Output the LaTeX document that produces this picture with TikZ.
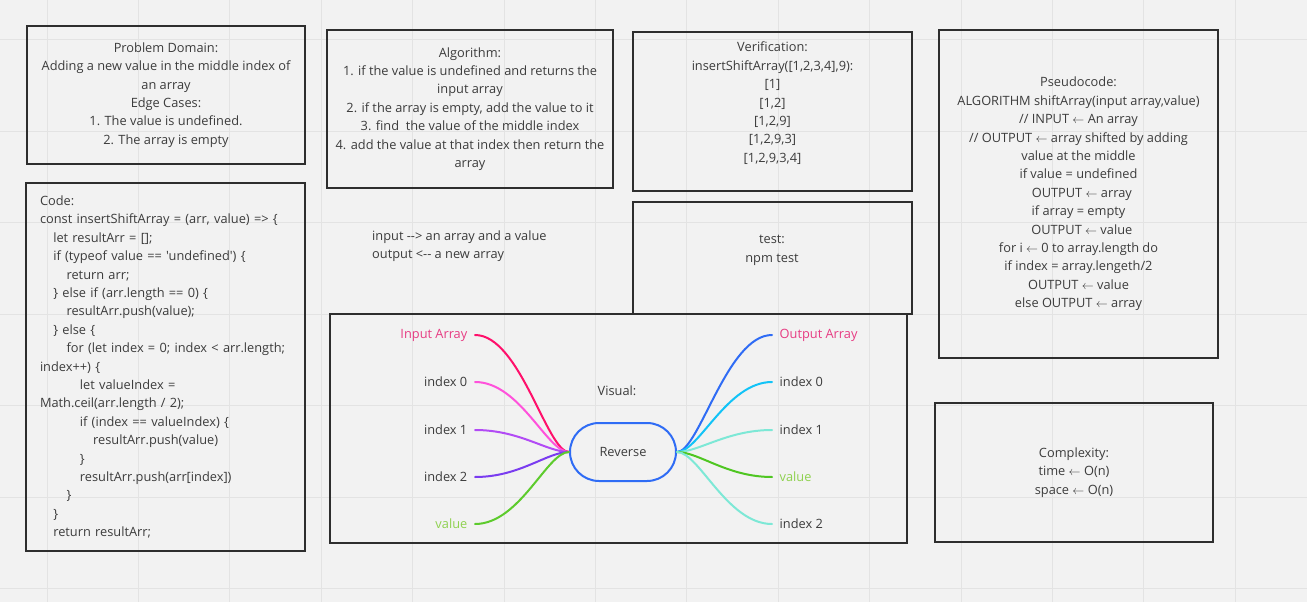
\documentclass[tikz,border=0pt]{standalone}
\usepackage{fontspec}
\setmainfont{Open Sans}[Ligatures=TeXOff]
\usetikzlibrary{positioning}
\definecolor{paper}{HTML}{F2F2F2}
\definecolor{gridline}{HTML}{E3E3E3}
\definecolor{ink}{HTML}{3C3C3C}
\definecolor{boxline}{HTML}{2E2E2E}
\definecolor{rootblue}{HTML}{2F6CF5}
\definecolor{pinktext}{HTML}{E73C83}
\definecolor{greentext}{HTML}{8FD14F}
\newlength\tabw
\setlength\tabw{13.3pt}
\newcommand\tabin[1]{\hspace*{#1\tabw}\ignorespaces}
\newcommand\lar{$\leftarrow$}
\tikzset{
  panel/.style={draw=boxline, line width=2pt, inner sep=0pt, align=center, text=ink,
    font=\fontsize{12.8}{18.4}\selectfont},
  leaf/.style={text=ink, inner xsep=7.5pt, inner ysep=2pt, font=\fontsize{12.8}{15}\selectfont},
  branch/.style={line width=2pt, line cap=round}
}
\begin{document}
\begin{tikzpicture}[x=1pt,y=-1pt]
\fill[paper] (0,0) rectangle (1307,602);
\useasboundingbox (0,0) rectangle (1307,602);
\foreach \k in {0,...,13}
         {
\draw[gridline, line width=1pt] (47+91.4*\k,0) -- (47+91.4*\k,602);
}
\foreach \k in {0,...,6}
         {
\draw[gridline, line width=1pt] (0,40+91.4*\k) -- (1307,40+91.4*\k);
}

\node[panel, minimum width=278pt, minimum height=138pt] (domain) at (166,95)
  {Problem Domain:\\ Adding a new value in the middle index of\\ an array\\ Edge Cases:\\
   1. The value is undefined.\\ 2. The array is empty};
\node[panel, minimum width=286pt, minimum height=158pt] (algo) at (470,109)
  {Algorithm:\\ 1. if the value is undefined and returns the\\ input array\\
   2. if the array is empty, add the value to it\\ 3. find\ \ the value of the middle index\\
   4. add the value at that index then return the\\ array};
\node[panel, minimum width=279pt, minimum height=159pt] (verify) at (772.5,111.5)
  {Verification:\\ insertShiftArray([1,2,3,4],9):\\ {[1]}\\ {[1,2]}\\ {[1,2,9]}\\ {[1,2,9,3]}\\ {[1,2,9,3,4]}\\ ~};
\node[panel, minimum width=279pt, minimum height=328pt] (pseudo) at (1078.5,194)
  {Pseudocode:\\ ALGORITHM shiftArray(input array,value)\\ // INPUT \lar{} An array\\
   // OUTPUT \lar{} array shifted by adding\\ value at the middle\\ if value = undefined\\
   \ \ OUTPUT \lar{} array\\ if array = empty\\ \ \ OUTPUT \lar{} value\\
   for i \lar{} 0 to array.length do\\ if index = array.lengeth/2\\ OUTPUT \lar{} value\\
   else OUTPUT \lar{} array};
\node[panel, align=left, text width=251pt, inner xsep=14pt, minimum height=368pt] (code) at (165.5,367)
  {Code:\\
   const insertShiftArray = (arr, value) => \{\\
   \tabin1 let resultArr = [];\\
   \tabin1 if (typeof value == 'undefined') \{\\
   \tabin2 return arr;\\
   \tabin1 \} else if (arr.length == 0) \{\\
   \tabin2 resultArr.push(value);\\
   \tabin1 \} else \{\\
   \tabin2 for (let index = 0; index < arr.length;\\
   index++) \{\\
   \tabin3 let valueIndex =\\
   Math.ceil(arr.length / 2);\\
   \tabin3 if (index == valueIndex) \{\\
   \tabin4 resultArr.push(value)\\
   \tabin3 \}\\
   \tabin3 resultArr.push(arr[index])\\
   \tabin2 \}\\
   \tabin1 \}\\
   \tabin1 return resultArr;};
\node[panel, minimum width=279pt, minimum height=112pt] (test) at (772,258)
  {test:\\ npm test\\ ~};
\node[panel, minimum width=278pt, minimum height=139pt] (cost) at (1074,472.5)
  {Complexity:\\ time \lar{} O(n)\\ space \lar{} O(n)};
\node[text=ink, align=left, anchor=west, inner sep=0pt, font=\fontsize{12.8}{18.4}\selectfont] (io) at (372,246)
  {input --> an array and a value\\ output <-- a new array};

\node[panel, minimum width=577pt, minimum height=229pt] (visual) at (618.5,428.5) {};
\node[text=ink, font=\fontsize{12.8}{15}\selectfont] (vislabel) at (617,391) {Visual:};
\node[draw=rootblue, line width=2pt, rounded corners=29pt, minimum width=106pt, minimum height=58pt,
  text=ink, font=\fontsize{12.8}{15}\selectfont] (rev) at (623,452) {Reverse};

\node[leaf, anchor=east, text=pinktext] (inarr) at (475,335) {Input Array};
\node[leaf, anchor=east] (in0) at (475,382) {index 0};
\node[leaf, anchor=east] (in1) at (475,430) {index 1};
\node[leaf, anchor=east] (in2) at (475,477) {index 2};
\node[leaf, anchor=east, text=greentext] (inval) at (475,524) {value};

\node[leaf, anchor=west, text=pinktext] (outarr) at (772,335) {Output Array};
\node[leaf, anchor=west] (out0) at (772,382) {index 0};
\node[leaf, anchor=west] (out1) at (772,430) {index 1};
\node[leaf, anchor=west, text=greentext] (outval) at (772,477) {value};
\node[leaf, anchor=west] (out2) at (772,524) {index 2};

\draw[branch, draw={rgb,255:red,255;green,16;blue,107}] (rev.west) .. controls +(-22,0) and +(45,0) .. (inarr.east);
\draw[branch, draw={rgb,255:red,255;green,82;blue,219}] (rev.west) .. controls +(-22,0) and +(45,0) .. (in0.east);
\draw[branch, draw={rgb,255:red,178;green,75;blue,245}] (rev.west) .. controls +(-22,0) and +(45,0) .. (in1.east);
\draw[branch, draw={rgb,255:red,122;green,60;blue,240}] (rev.west) .. controls +(-22,0) and +(45,0) .. (in2.east);
\draw[branch, draw={rgb,255:red,93;green,203;blue,45}] (rev.west) .. controls +(-22,0) and +(45,0) .. (inval.east);

\draw[branch, draw=rootblue] (rev.east) .. controls +(22,0) and +(-45,0) .. (outarr.west);
\draw[branch, draw={rgb,255:red,18;green,195;blue,247}] (rev.east) .. controls +(22,0) and +(-45,0) .. (out0.west);
\draw[branch, draw={rgb,255:red,125;green,232;blue,214}] (rev.east) .. controls +(22,0) and +(-45,0) .. (out1.west);
\draw[branch, draw={rgb,255:red,79;green,198;blue,34}] (rev.east) .. controls +(22,0) and +(-45,0) .. (outval.west);
\draw[branch, draw={rgb,255:red,125;green,232;blue,214}] (rev.east) .. controls +(22,0) and +(-45,0) .. (out2.west);
\end{tikzpicture}
\end{document}
